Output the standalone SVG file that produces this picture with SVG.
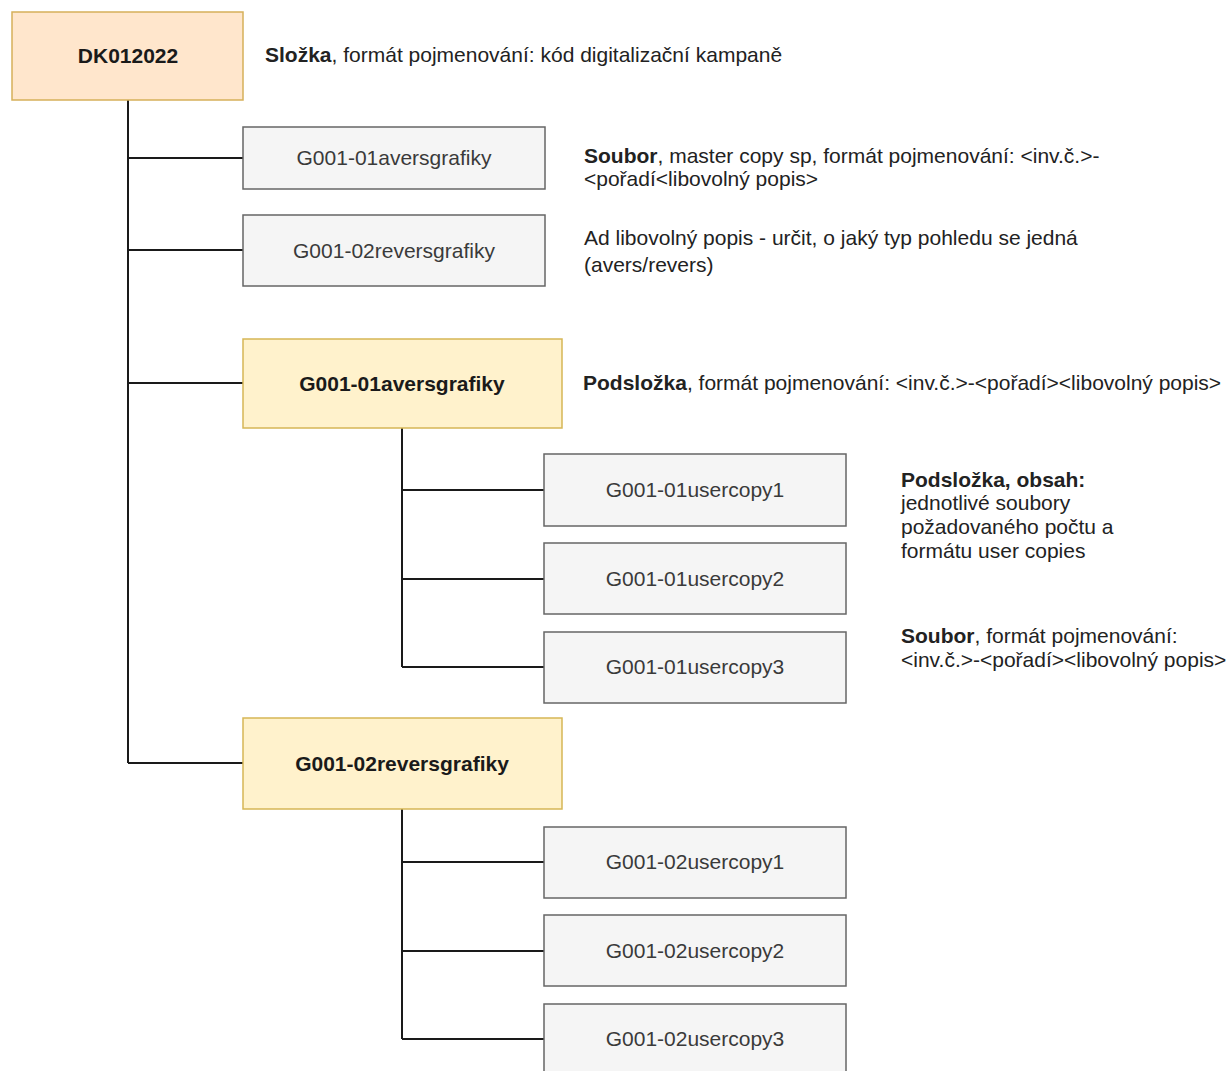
<svg xmlns="http://www.w3.org/2000/svg" width="1232" height="1071" viewBox="0 0 1232 1071">
<style>
text{font-family:"Liberation Sans",Arial,sans-serif;font-size:21px}
.gray rect{fill:#f5f5f5;stroke:#666666;stroke-width:1.5}
.gray text{fill:#3a3a3a;text-anchor:middle}
.yel rect{fill:#fff2cc;stroke:#d6b656;stroke-width:1.5}
.peach rect{fill:#ffe6cc;stroke:#d6b05a;stroke-width:1.5}
.yel text,.peach text{fill:#1a1a1a;text-anchor:middle;font-weight:bold}
.desc{fill:#222222}
.b{font-weight:bold}
#connectors path{fill:none;stroke:#1a1a1a;stroke-width:2}
</style>
<rect width="1232" height="1071" fill="#ffffff"/>
<g id="connectors">
<path d="M128 100 V763 M128 158 H243 M128 250 H243 M128 383 H243 M128 763 H243"/>
<path d="M402 428 V667 M402 490 H544 M402 579 H544 M402 667 H544"/>
<path d="M402 809 V1039 M402 862 H544 M402 951 H544 M402 1039 H544"/>
</g>
<g id="dk012022" class="peach"><rect x="12" y="12" width="231" height="88"/><text x="128" y="63">DK012022</text></g>
<g id="file-avers" class="gray"><rect x="243" y="127" width="302" height="62"/><text x="394" y="165">G001-01aversgrafiky</text></g>
<g id="file-revers" class="gray"><rect x="243" y="215" width="302" height="71"/><text x="394" y="258">G001-02reversgrafiky</text></g>
<g id="folder-avers" class="yel"><rect x="243" y="339" width="319" height="89"/><text x="402" y="391">G001-01aversgrafiky</text></g>
<g id="folder-revers" class="yel"><rect x="243" y="718" width="319" height="91"/><text x="402" y="771">G001-02reversgrafiky</text></g>
<g id="uc01-1" class="gray"><rect x="544" y="454" width="302" height="72"/><text x="695" y="497">G001-01usercopy1</text></g>
<g id="uc01-2" class="gray"><rect x="544" y="543" width="302" height="71"/><text x="695" y="586">G001-01usercopy2</text></g>
<g id="uc01-3" class="gray"><rect x="544" y="632" width="302" height="71"/><text x="695" y="674">G001-01usercopy3</text></g>
<g id="uc02-1" class="gray"><rect x="544" y="827" width="302" height="71"/><text x="695" y="869">G001-02usercopy1</text></g>
<g id="uc02-2" class="gray"><rect x="544" y="915" width="302" height="71"/><text x="695" y="958">G001-02usercopy2</text></g>
<g id="uc02-3" class="gray"><rect x="544" y="1004" width="302" height="75"/><text x="695" y="1046">G001-02usercopy3</text></g>
<g id="labels" class="desc">
<text x="265" y="62"><tspan class="b">Složka</tspan>, formát pojmenování: kód digitalizační kampaně</text>
<text x="584" y="163"><tspan class="b">Soubor</tspan>, master copy sp, formát pojmenování: &lt;inv.č.&gt;-</text>
<text x="584" y="186">&lt;pořadí&lt;libovolný popis&gt;</text>
<text x="584" y="245">Ad libovolný popis - určit, o jaký typ pohledu se jedná</text>
<text x="584" y="272">(avers/revers)</text>
<text x="583" y="390"><tspan class="b">Podsložka</tspan>, formát pojmenování: &lt;inv.č.&gt;-&lt;pořadí&gt;&lt;libovolný popis&gt;</text>
<text x="901" y="487" class="b">Podsložka, obsah:</text>
<text x="901" y="510">jednotlivé soubory</text>
<text x="901" y="534">požadovaného počtu a</text>
<text x="901" y="558">formátu user copies</text>
<text x="901" y="643"><tspan class="b">Soubor</tspan>, formát pojmenování:</text>
<text x="901" y="667">&lt;inv.č.&gt;-&lt;pořadí&gt;&lt;libovolný popis&gt;</text>
</g>
</svg>
